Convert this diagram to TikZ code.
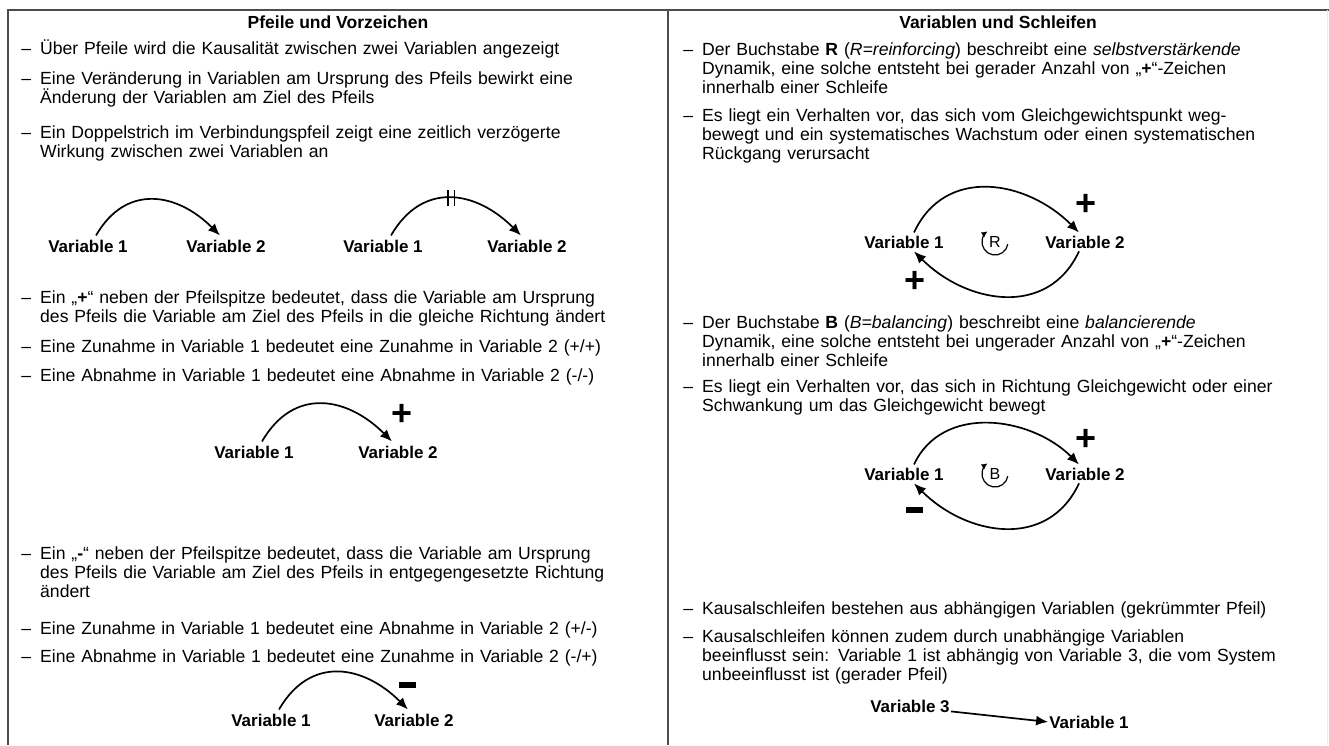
\documentclass[tikz,border=0pt]{standalone}
\usepackage{fontspec}
\setmainfont{Liberation Sans}
\usetikzlibrary{arrows.meta}

\tikzset{
  txt/.style={anchor=base west, inner sep=0pt, text width=625pt, align=left,
    font=\fontsize{17.6}{19}\selectfont},
  ttl/.style={anchor=base, inner sep=0pt, font=\bfseries\fontsize{17.5}{19}\selectfont},
  var/.style={anchor=base, inner sep=1pt, font=\bfseries\fontsize{17}{19}\selectfont},
  possign/.style={inner sep=0pt, font=\bfseries\fontsize{36}{36}\selectfont},
  negsign/.style={inner sep=0pt, fill=black, minimum width=17pt, minimum height=6pt},
  link/.style={line width=1.7pt, -{Latex[length=12pt,width=10pt]}},
  cyc/.style={line width=1.2pt, -{Latex[length=6pt,width=6pt]}},
  frame/.style={line width=1.6pt, draw=black!70}
}
\newcommand{\itm}{\llap{\textendash\hspace{9pt}}}

\begin{document}
\begin{tikzpicture}[x=1pt,y=1pt]
  \useasboundingbox (0,0) rectangle (1329,-745);

  % frame
  \draw[frame] (8,-745) -- (8,-10) -- (1329,-10);
  \draw[frame] (668,-10) -- (668,-745);
  \draw[black!8, line width=1pt] (1327,-10) -- (1327,-745);

  % left column: arrows and signs
  \node[ttl] (ttlL) at (338,-28) {Pfeile und Vorzeichen};
  \node[txt] (l1) at (40,-54) {\itm Über Pfeile wird die Kausalität zwischen zwei Variablen angezeigt};
  \node[txt] (l2) at (40,-84) {\itm Eine Veränderung in Variablen am Ursprung des Pfeils bewirkt eine\\
    Änderung der Variablen am Ziel des Pfeils};
  \node[txt] (l3) at (40,-138) {\itm Ein Doppelstrich im Verbindungspfeil zeigt eine zeitlich verzögerte\\
    Wirkung zwischen zwei Variablen an};

  \node[var] (a1) at (88,-252) {Variable 1};
  \node[var] (a2) at (226,-252) {Variable 2};
  \draw[link] ([xshift=8pt,yshift=3pt]a1.north) to[out=60,in=135,looseness=1.25] ([xshift=-6pt,yshift=3pt]a2.north);

  \node[var] (b1) at (383,-252) {Variable 1};
  \node[var] (b2) at (527,-252) {Variable 2};
  \draw[link] ([xshift=8pt,yshift=3pt]b1.north) to[out=60,in=135,looseness=1.25]
    node[pos=.5, inner sep=0pt, minimum width=5pt, minimum height=14pt] (gap) {}
    ([xshift=-6pt,yshift=3pt]b2.north);
  \draw[line width=1.8pt] (gap.north west) -- (gap.south west) (gap.north east) -- (gap.south east);

  \node[txt] (l4) at (40,-303) {\itm Ein „\textbf{+}“ neben der Pfeilspitze bedeutet, dass die Variable am Ursprung\\
    des Pfeils die Variable am Ziel des Pfeils in die gleiche Richtung ändert};
  \node[txt] (l5) at (40,-352) {\itm Eine Zunahme in Variable 1 bedeutet eine Zunahme in Variable 2 (+/+)};
  \node[txt] (l6) at (40,-381) {\itm Eine Abnahme in Variable 1 bedeutet eine Abnahme in Variable 2 (-/-)};

  \node[var] (c1) at (254,-458) {Variable 1};
  \node[var] (c2) at (398,-458) {Variable 2};
  \draw[link] ([xshift=8pt,yshift=3pt]c1.north) to[out=60,in=135,looseness=1.25] ([xshift=-6pt,yshift=3pt]c2.north);
  \node[possign] (cp) at (402,-415) {+};

  \node[txt] (l7) at (40,-559) {\itm Ein „\textbf{-}“ neben der Pfeilspitze bedeutet, dass die Variable am Ursprung\\
    des Pfeils die Variable am Ziel des Pfeils in entgegengesetzte Richtung\\
    ändert};
  \node[txt] (l8) at (40,-634) {\itm Eine Zunahme in Variable 1 bedeutet eine Abnahme in Variable 2 (+/-)};
  \node[txt] (l9) at (40,-662) {\itm Eine Abnahme in Variable 1 bedeutet eine Zunahme in Variable 2 (-/+)};

  \node[var] (e1) at (271,-726) {Variable 1};
  \node[var] (e2) at (414,-726) {Variable 2};
  \draw[link] ([xshift=8pt,yshift=3pt]e1.north) to[out=60,in=135,looseness=1.25] ([xshift=-6pt,yshift=3pt]e2.north);
  \node[negsign] (em) at (407,-685) {};

  % right column: variables and loops
  \node[ttl] (ttlR) at (998,-28) {Variablen und Schleifen};
  \node[txt] (r1t) at (702,-55) {\itm Der Buchstabe \textbf{R} (\textit{R=reinforcing}) beschreibt eine \textit{selbstverstärkende}\\
    Dynamik, eine solche entsteht bei gerader Anzahl von „\textbf{+}“-Zeichen\\
    innerhalb einer Schleife};
  \node[txt] (r2t) at (702,-121) {\itm Es liegt ein Verhalten vor, das sich vom Gleichgewichtspunkt weg-\\
    bewegt und ein systematisches Wachstum oder einen systematischen\\
    Rückgang verursacht};

  \node[var] (r1) at (904,-248) {Variable 1};
  \node[var] (r2) at (1085,-248) {Variable 2};
  \node[inner sep=0pt, font=\fontsize{16}{18}\selectfont] (rR) at (995,-242) {R};
  \draw[cyc] ([shift={(-10:13)}]rR.center) arc[start angle=-10, end angle=-235, radius=13];
  \draw[link] ([xshift=10pt,yshift=2pt]r1.north) to[out=65,in=135,looseness=1.15] ([xshift=-6pt,yshift=2pt]r2.north);
  \draw[link] ([xshift=-6pt,yshift=-2pt]r2.south) to[out=-115,in=-45,looseness=1.15] ([xshift=10pt,yshift=-2pt]r1.south);
  \node[possign] (rp1) at (1086,-205) {+};
  \node[possign] (rp2) at (915,-282) {+};

  \node[txt] (r3t) at (702,-328) {\itm Der Buchstabe \textbf{B} (\textit{B=balancing}) beschreibt eine \textit{balancierende}\\
    Dynamik, eine solche entsteht bei ungerader Anzahl von „\textbf{+}“-Zeichen\\
    innerhalb einer Schleife};
  \node[txt] (r4t) at (702,-392) {\itm Es liegt ein Verhalten vor, das sich in Richtung Gleichgewicht oder einer\\
    Schwankung um das Gleichgewicht bewegt};

  \node[var] (s1) at (904,-480) {Variable 1};
  \node[var] (s2) at (1085,-480) {Variable 2};
  \node[inner sep=0pt, font=\fontsize{16}{18}\selectfont] (sB) at (995,-474) {B};
  \draw[cyc] ([shift={(-10:13)}]sB.center) arc[start angle=-10, end angle=-235, radius=13];
  \draw[link] ([xshift=10pt,yshift=2pt]s1.north) to[out=65,in=135,looseness=1.05] ([xshift=-6pt,yshift=2pt]s2.north);
  \draw[link] ([xshift=-6pt,yshift=-2pt]s2.south) to[out=-115,in=-45,looseness=1.15] ([xshift=10pt,yshift=-2pt]s1.south);
  \node[possign] (sp) at (1086,-440) {+};
  \node[negsign] (sm) at (914,-510) {};

  \node[txt] (r5t) at (702,-614) {\itm Kausalschleifen bestehen aus abhängigen Variablen (gekrümmter Pfeil)};
  \node[txt] (r6t) at (702,-642) {\itm Kausalschleifen können zudem durch unabhängige Variablen\\
    beeinflusst sein: Variable 1 ist abhängig von Variable 3, die vom System\\
    unbeeinflusst ist (gerader Pfeil)};

  \node[var] (v3) at (910,-712) {Variable 3};
  \node[var] (v1) at (1089,-728) {Variable 1};
  \draw[link] ([yshift=2pt]v3.south east) -- (v1.west);
\end{tikzpicture}
\end{document}
